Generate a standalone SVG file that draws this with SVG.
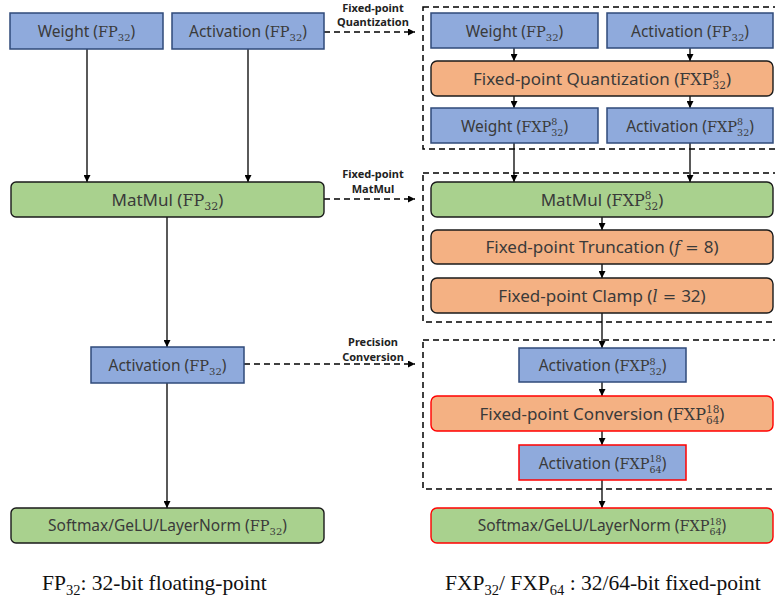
<svg xmlns="http://www.w3.org/2000/svg" width="775" height="607" viewBox="0 0 775 607">
<defs>
<marker id="ah" viewBox="0 0 10 10" refX="10" refY="5" markerWidth="7" markerHeight="7" markerUnits="userSpaceOnUse" orient="auto"><path d="M0,0 L10,5 L0,10 z" fill="#000"/></marker>
<style>
.blue{fill:#8faadc;stroke:#2f4a7a;stroke-width:1.5}
.green{fill:#a9d18e;stroke:#1a1a1a;stroke-width:1.4}
.orange{fill:#f4b183;stroke:#1a1a1a;stroke-width:1.4}
.red{stroke:#ff0000}
.t{font-family:"Noto Sans","DejaVu Sans",sans-serif;fill:#3a3a3a;text-anchor:middle}
.s{font-size:15.5px}
.l{font-size:17px}
.m{font-family:"DejaVu Serif","Liberation Serif",serif}
.i{font-family:"DejaVu Serif","Liberation Serif",serif;font-style:italic}
.lab{font-family:"Noto Sans","DejaVu Sans",sans-serif;font-size:11px;font-weight:bold;fill:#222;text-anchor:middle}
.leg{font-family:"Liberation Serif","Times New Roman",serif;font-size:21.5px;fill:#111}
.solid{stroke:#000;stroke-width:1.3;fill:none}
.dash{stroke:#000;stroke-width:1.5;fill:none;stroke-dasharray:6,4}
</style>
</defs>

<g id="groups">
<rect x="423" y="7" width="370" height="142" class="dash"/>
<rect x="423" y="173" width="370" height="149" class="dash"/>
<rect x="423" y="340" width="370" height="149" class="dash"/>
</g>

<g id="connectors">
<line x1="87" y1="49" x2="87" y2="182" class="solid" marker-end="url(#ah)"/>
<line x1="248" y1="49" x2="248" y2="182" class="solid" marker-end="url(#ah)"/>
<line x1="167" y1="217" x2="167" y2="347" class="solid" marker-end="url(#ah)"/>
<line x1="167" y1="383" x2="167" y2="508" class="solid" marker-end="url(#ah)"/>
<line x1="514" y1="48" x2="514" y2="61" class="solid" marker-end="url(#ah)"/>
<line x1="690" y1="48" x2="690" y2="61" class="solid" marker-end="url(#ah)"/>
<line x1="514" y1="96" x2="514" y2="108" class="solid" marker-end="url(#ah)"/>
<line x1="690" y1="96" x2="690" y2="108" class="solid" marker-end="url(#ah)"/>
<line x1="514" y1="143" x2="514" y2="182" class="solid" marker-end="url(#ah)"/>
<line x1="690" y1="143" x2="690" y2="182" class="solid" marker-end="url(#ah)"/>
<line x1="602" y1="217" x2="602" y2="230" class="solid" marker-end="url(#ah)"/>
<line x1="602" y1="264" x2="602" y2="278" class="solid" marker-end="url(#ah)"/>
<line x1="602" y1="313" x2="602" y2="348" class="solid" marker-end="url(#ah)"/>
<line x1="602" y1="382" x2="602" y2="396" class="solid" marker-end="url(#ah)"/>
<line x1="602" y1="431" x2="602" y2="445" class="solid" marker-end="url(#ah)"/>
<line x1="602" y1="480" x2="602" y2="508" class="solid" marker-end="url(#ah)"/>
<line x1="324" y1="32" x2="415" y2="32" class="dash" marker-end="url(#ah)"/>
<line x1="324" y1="199" x2="415" y2="199" class="dash" marker-end="url(#ah)"/>
<line x1="244" y1="364" x2="415" y2="364" class="dash" marker-end="url(#ah)"/>
<text class="lab"><tspan x="373" y="12">Fixed-point</tspan><tspan x="373" y="26">Quantization</tspan></text>
<text class="lab"><tspan x="373" y="178">Fixed-point</tspan><tspan x="373" y="193">MatMul</tspan></text>
<text class="lab"><tspan x="373" y="346">Precision</tspan><tspan x="373" y="361">Conversion</tspan></text>
</g>

<g id="weight-fp32">
<rect x="10" y="13" width="153" height="36" class="blue"/>
<text x="86.5" y="37" class="t s">Weight (<tspan class="m" font-size="14.5">FP</tspan><tspan class="m" font-size="10" dy="4">32</tspan><tspan dy="-4">)</tspan></text>
</g>
<g id="activation-fp32">
<rect x="172" y="13" width="152" height="36" class="blue"/>
<text x="248" y="37" class="t s">Activation (<tspan class="m" font-size="14.5">FP</tspan><tspan class="m" font-size="10" dy="4">32</tspan><tspan dy="-4">)</tspan></text>
</g>
<g id="matmul-fp32">
<rect x="11" y="182" width="313" height="35" rx="5" class="green"/>
<text x="167.5" y="205.5" class="t l">MatMul (<tspan class="m" font-size="16">FP</tspan><tspan class="m" font-size="11" dy="4">32</tspan><tspan dy="-4">)</tspan></text>
</g>
<g id="activation-fp32-b">
<rect x="91" y="347" width="153" height="36" class="blue"/>
<text x="167.5" y="371" class="t s">Activation (<tspan class="m" font-size="14.5">FP</tspan><tspan class="m" font-size="10" dy="4">32</tspan><tspan dy="-4">)</tspan></text>
</g>
<g id="softmax-fp32">
<rect x="11" y="508" width="313" height="35" rx="5" class="green"/>
<text x="167.5" y="531" class="t s">Softmax/GeLU/LayerNorm (<tspan class="m" font-size="14.5">FP</tspan><tspan class="m" font-size="10" dy="4">32</tspan><tspan dy="-4">)</tspan></text>
</g>

<g id="weight-fp32-r">
<rect x="431" y="13" width="167" height="35" class="blue"/>
<text x="514.5" y="36.5" class="t s">Weight (<tspan class="m" font-size="14.5">FP</tspan><tspan class="m" font-size="10" dy="4">32</tspan><tspan dy="-4">)</tspan></text>
</g>
<g id="activation-fp32-r">
<rect x="607" y="13" width="166" height="35" class="blue"/>
<text x="690" y="36.5" class="t s">Activation (<tspan class="m" font-size="14.5">FP</tspan><tspan class="m" font-size="10" dy="4">32</tspan><tspan dy="-4">)</tspan></text>
</g>
<g id="quantization">
<rect x="431" y="61" width="342" height="35" rx="6" class="orange"/>
<text x="602" y="84.5" class="t l">Fixed-point Quantization (<tspan class="m" font-size="16">FXP</tspan><tspan class="m" font-size="10.5" dy="-7">8</tspan><tspan class="m" font-size="10.5" dx="-6.7" dy="11">32</tspan><tspan dy="-4">)</tspan></text>
</g>
<g id="weight-fxp">
<rect x="431" y="108" width="167" height="35" class="blue"/>
<text x="514.5" y="131.5" class="t s">Weight (<tspan class="m" font-size="14.5">FXP</tspan><tspan class="m" font-size="9.5" dy="-6.5">8</tspan><tspan class="m" font-size="9.5" dx="-6" dy="10.5">32</tspan><tspan dy="-4">)</tspan></text>
</g>
<g id="activation-fxp">
<rect x="607" y="108" width="166" height="35" class="blue"/>
<text x="690" y="131.5" class="t s">Activation (<tspan class="m" font-size="14.5">FXP</tspan><tspan class="m" font-size="9.5" dy="-6.5">8</tspan><tspan class="m" font-size="9.5" dx="-6" dy="10.5">32</tspan><tspan dy="-4">)</tspan></text>
</g>
<g id="matmul-fxp">
<rect x="431" y="182" width="342" height="35" rx="6" class="green"/>
<text x="602" y="205.5" class="t l">MatMul (<tspan class="m" font-size="16">FXP</tspan><tspan class="m" font-size="10.5" dy="-7">8</tspan><tspan class="m" font-size="10.5" dx="-6.7" dy="11">32</tspan><tspan dy="-4">)</tspan></text>
</g>
<g id="truncation">
<rect x="431" y="230" width="342" height="34" rx="6" class="orange"/>
<text x="602" y="253" class="t l">Fixed-point Truncation (<tspan class="i" font-size="16">f</tspan><tspan class="m" font-size="16"> = </tspan>8)</text>
</g>
<g id="clamp">
<rect x="431" y="278" width="342" height="35" rx="6" class="orange"/>
<text x="602" y="301.5" class="t l">Fixed-point Clamp (<tspan class="i" font-size="16">l</tspan><tspan class="m" font-size="16"> = </tspan>32)</text>
</g>
<g id="activation-fxp-32">
<rect x="519" y="348" width="167" height="34" class="blue"/>
<text x="602.5" y="371" class="t s">Activation (<tspan class="m" font-size="14.5">FXP</tspan><tspan class="m" font-size="9.5" dy="-6.5">8</tspan><tspan class="m" font-size="9.5" dx="-6" dy="10.5">32</tspan><tspan dy="-4">)</tspan></text>
</g>
<g id="conversion">
<rect x="431" y="396" width="342" height="35" rx="6" class="orange red"/>
<text x="602" y="419.5" class="t l">Fixed-point Conversion (<tspan class="m" font-size="16">FXP</tspan><tspan class="m" font-size="10.5" dy="-7">18</tspan><tspan class="m" font-size="10.5" dx="-13.4" dy="11">64</tspan><tspan dy="-4">)</tspan></text>
</g>
<g id="activation-fxp-64">
<rect x="519" y="445" width="167" height="35" class="blue red"/>
<text x="602.5" y="468.5" class="t s">Activation (<tspan class="m" font-size="14.5">FXP</tspan><tspan class="m" font-size="9.5" dy="-6.5">18</tspan><tspan class="m" font-size="9.5" dx="-12.1" dy="10.5">64</tspan><tspan dy="-4">)</tspan></text>
</g>
<g id="softmax-fxp">
<rect x="431" y="508" width="342" height="35" rx="6" class="green red"/>
<text x="602" y="531" class="t s">Softmax/GeLU/LayerNorm (<tspan class="m" font-size="14.5">FXP</tspan><tspan class="m" font-size="9.5" dy="-6.5">18</tspan><tspan class="m" font-size="9.5" dx="-12.1" dy="10.5">64</tspan><tspan dy="-4">)</tspan></text>
</g>

<g id="legend">
<text x="42" y="590" class="leg">FP<tspan font-size="14.5" dy="5">32</tspan><tspan dy="-5">: 32-bit floating-point</tspan></text>
<text x="445" y="590" class="leg">FXP<tspan font-size="14.5" dy="5">32</tspan><tspan dy="-5">/ FXP</tspan><tspan font-size="14.5" dy="5">64</tspan><tspan dy="-5"> : 32/64-bit fixed-point</tspan></text>
</g>
</svg>
